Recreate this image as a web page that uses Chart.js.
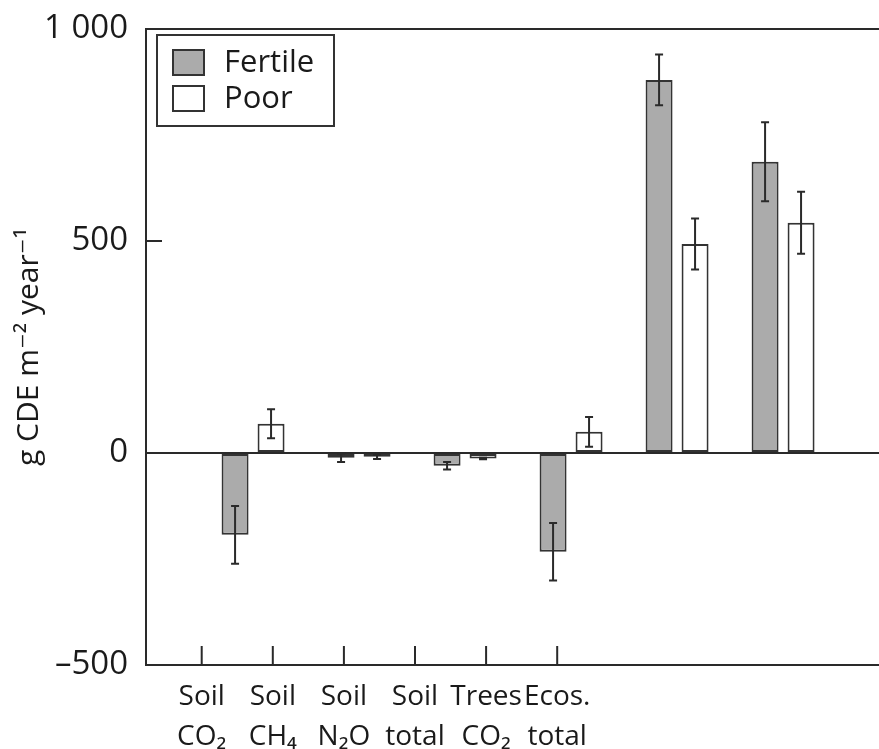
<!DOCTYPE html>
<html>
<head>
<meta charset="utf-8">
<script src="https://cdn.jsdelivr.net/npm/chart.js@4"></script>
<style>
  html, body { margin: 0; padding: 0; background: #fff; }
  #wrap { width: 879px; height: 749px; position: relative; }
</style>
</head>
<body>
<div id="wrap"><canvas id="chart"></canvas></div>
<script>
// categories (two-line tick labels) and series values
const categories = [['Soil', 'CO₂'], ['Soil', 'CH₄'], ['Soil', 'N₂O'], ['Soil', 'total'], ['Trees', 'CO₂'], ['Ecos.', 'total']];
const seriesNames = ['Fertile', 'Poor'];
const fertile = [-193, -11, -30, -233, 880, 687];
const fertileErr = [68, 10, 9, 68, 60, 93];
const poor = [69, -9, -13, 50, 493, 543];
const poorErr = [34, 5, 2, 35, 60, 73];
const yTicks = [-500, 0, 500, 1000];

const INK = '#2a2a2a';
const FONT = "'Open Sans', 'DejaVu Sans', sans-serif";
const catTicks = s => { s.ticks = categories.map((c, i) => ({ value: i + 1 })); };

// error bars drawn on top of each bar
const errorBars = {
  id: 'errorBars',
  afterDatasetsDraw(chart) {
    const ctx = chart.ctx;
    const y = chart.scales.y;
    ctx.save();
    ctx.strokeStyle = INK;
    ctx.lineWidth = 2;
    chart.data.datasets.forEach((ds, di) => {
      const meta = chart.getDatasetMeta(di);
      meta.data.forEach((bar, i) => {
        const v = ds.data[i].y;
        const e = ds.errors[i];
        const top = y.getPixelForValue(v + e);
        const bot = y.getPixelForValue(v - e);
        ctx.beginPath();
        ctx.moveTo(bar.x, top); ctx.lineTo(bar.x, bot);
        ctx.moveTo(bar.x - 4, top); ctx.lineTo(bar.x + 4, top);
        ctx.moveTo(bar.x - 4, bot); ctx.lineTo(bar.x + 4, bot);
        ctx.stroke();
      });
    });
    ctx.restore();
  }
};

// frame top line, inward tick marks and boxed legend
const frameAndLegend = {
  id: 'frameAndLegend',
  afterDraw(chart) {
    const ctx = chart.ctx;
    const a = chart.chartArea;
    const x2 = chart.scales.x2;
    const y = chart.scales.y;
    ctx.save();
    ctx.strokeStyle = INK;
    ctx.lineWidth = 2;
    ctx.beginPath();
    ctx.moveTo(a.left, a.top); ctx.lineTo(a.right, a.top);
    categories.forEach((c, i) => {
      const px = x2.getPixelForValue(i + 1);
      ctx.moveTo(px, a.bottom); ctx.lineTo(px, a.bottom - 19);
    });
    yTicks.forEach(v => {
      const py = y.getPixelForValue(v);
      ctx.moveTo(a.left, py); ctx.lineTo(a.left + 16, py);
    });
    ctx.stroke();

    // legend
    const lx = a.left + 11, ly = a.top + 6;
    ctx.strokeStyle = '#333';
    ctx.lineWidth = 2;
    ctx.strokeRect(lx, ly, 177, 91);
    ctx.font = '31px ' + FONT;
    ctx.textBaseline = 'middle';
    chart.data.datasets.forEach((ds, i) => {
      const sy = ly + 15 + i * 36;
      ctx.fillStyle = ds.backgroundColor;
      ctx.fillRect(lx + 16, sy, 31, 25);
      ctx.strokeRect(lx + 16, sy, 31, 25);
      ctx.fillStyle = '#1a1a1a';
      ctx.fillText(ds.label, lx + 67, sy + 13);
    });
    ctx.restore();
  }
};

const datasets = [
  { label: seriesNames[0], data: categories.map((c, i) => ({ x: i + 1, y: fertile[i] })), errors: fertileErr, backgroundColor: '#ababab' },
  { label: seriesNames[1], data: categories.map((c, i) => ({ x: i + 1, y: poor[i] })), errors: poorErr, backgroundColor: '#ffffff' }
].map(d => Object.assign(d, {
  borderColor: '#333',
  borderWidth: 2,
  borderSkipped: false,
  barPercentage: 0.75,
  categoryPercentage: 0.679,
  xAxisID: 'x'
}));

new Chart(document.getElementById('chart'), {
  type: 'bar',
  data: { datasets },
  plugins: [errorBars, frameAndLegend],
  options: {
    responsive: true,
    maintainAspectRatio: false,
    animation: false,
    layout: { padding: { top: 29, left: 0, right: 0, bottom: 0 } },
    plugins: { legend: { display: false }, tooltip: { enabled: false } },
    scales: {
      x: {
        type: 'linear',
        display: false,
        offset: false,
        bounds: 'data',
        min: -0.01,
        max: 6.905,
        afterBuildTicks: catTicks
      },
      x2: {
        type: 'linear',
        position: 'bottom',
        offset: false,
        bounds: 'data',
        min: 0.2166,
        max: 10.526,
        afterBuildTicks: catTicks,
        grid: { display: false, drawTicks: false },
        border: { display: true, color: INK, width: 2 },
        afterFit: s => { s.height = 84; s.paddingLeft = 0; s.paddingRight = 0; },
        ticks: {
          autoSkip: false,
          maxRotation: 0,
          padding: 12,
          color: '#1a1a1a',
          font: { family: FONT, size: 28, lineHeight: 1.43 },
          callback: (v, i) => categories[i] || ''
        }
      },
      y: {
        min: -500,
        max: 1000,
        afterBuildTicks: s => { s.ticks = yTicks.map(v => ({ value: v })); },
        afterFit: s => { s.width = 146; s.paddingTop = 0; s.paddingBottom = 0; },
        grid: {
          drawTicks: false,
          lineWidth: 2,
          color: c => (c.tick && c.tick.value === 0 ? INK : 'rgba(0,0,0,0)')
        },
        border: { display: true, color: INK, width: 2 },
        ticks: {
          padding: 18,
          color: '#1a1a1a',
          font: { family: FONT, size: 33 },
          callback: v => (v === 1000 ? '1 000' : v < 0 ? '–' + Math.abs(v) : String(v))
        },
        title: {
          display: true,
          text: 'g CDE m⁻² year⁻¹',
          color: '#1a1a1a',
          font: { family: FONT, size: 30 },
          padding: { top: 11, bottom: 0 }
        }
      }
    }
  }
});
</script>
</body>
</html>
